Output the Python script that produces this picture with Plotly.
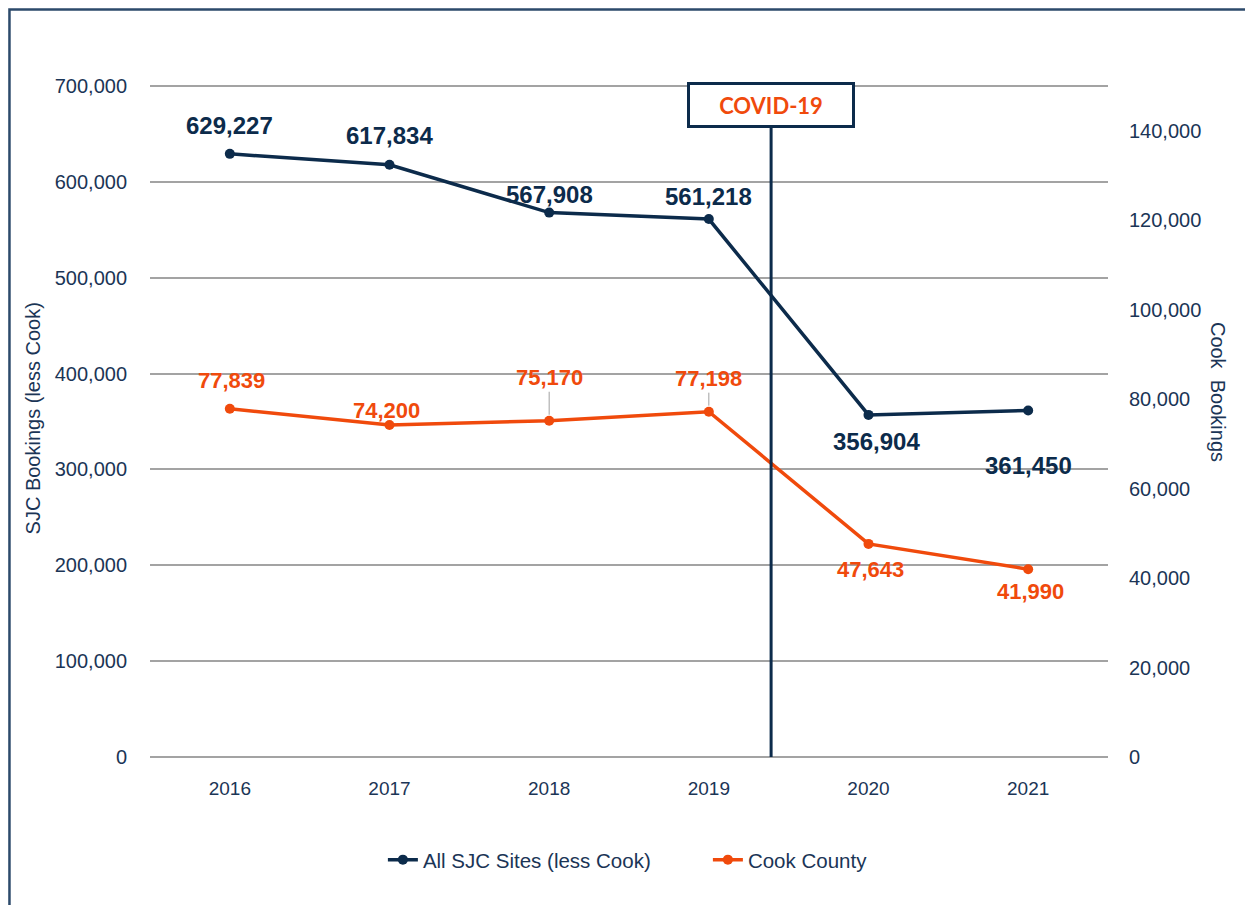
import plotly.graph_objects as go

years = [2016, 2017, 2018, 2019, 2020, 2021]
sjc_values = [629227, 617834, 567908, 561218, 356904, 361450]
cook_values = [77839, 74200, 75170, 77198, 47643, 41990]
sjc_name = "All SJC Sites (less Cook)"
cook_name = "Cook County"
covid_label = "COVID-19"
covid_x = 2019.39

# label offsets in pixels (dx, dy) relative to each point
sjc_offsets = [(0, -28), (0, -29), (0, -18), (0, -23), (8, 27), (0, 55)]
cook_offsets = [(2, -28), (-3, -15), (0, -43), (0, -33), (2, 26), (2, 22)]
cook_leader = [False, False, True, True, False, False]

NAVY = "#0c2b4b"
ORANGE = "#f04a0c"
GRID = "#a3a3a3"
TXT = "#1b3556"
FONT = "Liberation Sans, Arial, sans-serif"

Y1MAX = 700000 * 1.0015
Y2MAX = 150000 * 1.0015

fig = go.Figure()
fig.add_trace(go.Scatter(
    x=years, y=sjc_values, name=sjc_name, mode="lines+markers",
    line=dict(color=NAVY, width=3.5), marker=dict(color=NAVY, size=10),
    yaxis="y"))
fig.add_trace(go.Scatter(
    x=years, y=cook_values, name=cook_name, mode="lines+markers",
    line=dict(color=ORANGE, width=3.5), marker=dict(color=ORANGE, size=10),
    yaxis="y2"))

ann = []
for x, v, (dx, dy) in zip(years, sjc_values, sjc_offsets):
    ann.append(dict(x=x, y=v, xref="x", yref="y", text=f"{v:,}",
                    showarrow=True, ax=dx, ay=dy, arrowcolor="rgba(0,0,0,0)",
                    font=dict(family=FONT, size=24, color=NAVY, weight="bold")))
for x, v, (dx, dy), lead in zip(years, cook_values, cook_offsets, cook_leader):
    ann.append(dict(x=x, y=v, xref="x", yref="y2", text=f"{v:,}",
                    showarrow=True, ax=dx, ay=dy, arrowhead=0, arrowwidth=1,
                    standoff=6,
                    arrowcolor="#a0a0a0" if lead else "rgba(0,0,0,0)",
                    font=dict(family=FONT, size=22, color=ORANGE, weight="bold")))

# axis titles
ann.append(dict(x=-0.122, y=0.504, xref="paper", yref="paper", text="SJC Bookings (less Cook)",
                textangle=-90, showarrow=False, xanchor="center", yanchor="middle",
                font=dict(family=FONT, size=20, color=TXT)))
ann.append(dict(x=1.115, y=0.543, xref="paper", yref="paper", text="Cook  Bookings",
                textangle=90, showarrow=False, xanchor="center", yanchor="middle",
                font=dict(family=FONT, size=20, color=TXT)))

# COVID box
ann.append(dict(x=covid_x, y=680000, xref="x", yref="y", text="<b>" + covid_label + "</b>",
                showarrow=False, bgcolor="white", bordercolor=NAVY, borderwidth=3,
                width=160, height=38,
                font=dict(family="Lato, Open Sans, sans-serif", size=22, color=ORANGE)))

shapes = [
    dict(type="line", xref="x", yref="y", x0=covid_x, x1=covid_x, y0=0, y1=657000,
         line=dict(color=NAVY, width=3), layer="above"),
    dict(type="rect", xref="paper", yref="paper", x0=-0.1467, x1=1.3, y0=-0.4, y1=1.1124,
         line=dict(color="#2c4a6b", width=2.5), layer="below"),
]

fig.update_layout(
    width=1253, height=905,
    margin=dict(l=142, r=153, t=77, b=156),
    paper_bgcolor="white", plot_bgcolor="white",
    font=dict(family=FONT, color=TXT),
    xaxis=dict(range=[2015.5, 2021.5], tickvals=years, ticktext=[str(y) for y in years],
               showgrid=False, zeroline=False, showline=False, ticks="",
               ticklabelstandoff=18,
               tickfont=dict(size=19, color=TXT)),
    yaxis=dict(range=[0, Y1MAX], dtick=100000, tickformat=",", showgrid=True,
               gridcolor=GRID, gridwidth=1.5, zeroline=True, zerolinecolor=GRID,
               zerolinewidth=1.5, ticks="", ticklabelstandoff=22,
               tickfont=dict(size=20, color=TXT)),
    yaxis2=dict(range=[0, Y2MAX], dtick=20000, tickformat=",", overlaying="y",
                side="right", showgrid=False, zeroline=False, ticks="",
                ticklabelstandoff=20,
                tickfont=dict(size=20, color=TXT)),
    legend=dict(orientation="h", x=0.2431, xanchor="left", y=-0.153, yanchor="middle",
                font=dict(size=20.5, color=TXT), tracegroupgap=0,
                entrywidth=280),
    showlegend=True,
    annotations=ann,
    shapes=shapes,
)

fig.write_html("out.html")
